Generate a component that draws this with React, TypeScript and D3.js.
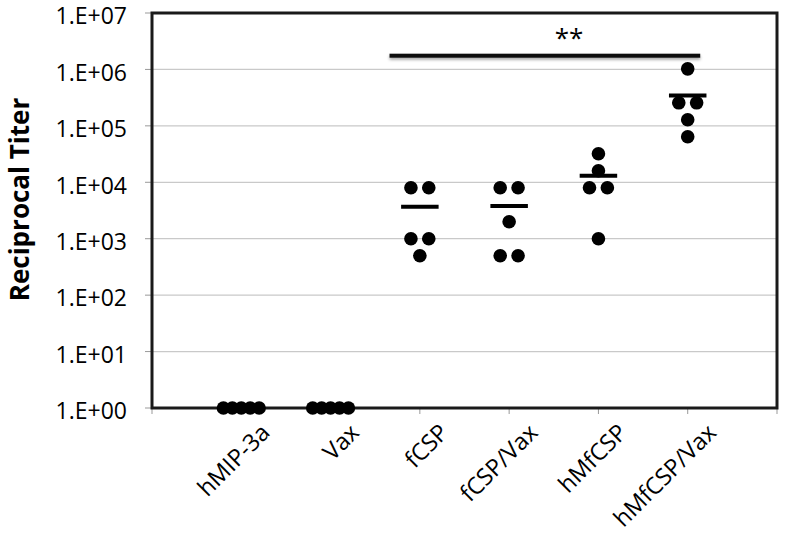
import React from 'react';
import * as d3 from 'd3';

// groups on the x axis (plotted at x = 1..6, axis runs 0..7)
const groups = ['hMIP-3a', 'Vax', 'fCSP', 'fCSP/Vax', 'hMfCSP', 'hMfCSP/Vax'];

// reciprocal titers, one value per animal
const hMIP3a = [1, 1, 1, 1, 1];
const vax = [1, 1, 1, 1, 1];
const fCSP = [8000, 8000, 1000, 1000, 500];
const fCSPVax = [8000, 8000, 2000, 500, 500];
const hMfCSP = [32000, 16000, 8000, 8000, 1000];
const hMfCSPVax = [1024000, 256000, 256000, 128000, 64000];
const series = [hMIP3a, vax, fCSP, fCSPVax, hMfCSP, hMfCSPVax];

const yTicks = [1, 10, 100, 1000, 10000, 100000, 1000000, 10000000];
const yTickLabels = ['1.E+00', '1.E+01', '1.E+02', '1.E+03', '1.E+04', '1.E+05', '1.E+06', '1.E+07'];

// significance bar (x in axis units, y as titer)
const sigFrom = 2.66;
const sigTo = 6.14;
const sigLevel = 1.75e6;
const sigText = '**';
const sigTextAt = 4.67;

const W = 788;
const H = 546;
const margin = {left: 152, right: 11, top: 13, bottom: 138};

export default function App() {
  const x = d3.scaleLinear().domain([0, 7]).range([margin.left, W - margin.right]);
  const y = d3.scaleLog().domain([1, 1e7]).range([H - margin.bottom, margin.top]);
  const jitterStep = 0.1;
  const font = '"Open Sans", "Liberation Sans", sans-serif';

  // spread equal values sideways so they don't sit on top of each other
  const points: {cx: number; cy: number}[] = [];
  series.forEach((vals, gi) => {
    const counts = d3.rollup(vals, (v) => v.length, (d) => d);
    const seen = new Map<number, number>();
    vals.forEach((v) => {
      const n = counts.get(v) || 1;
      const k = seen.get(v) || 0;
      seen.set(v, k + 1);
      let off = 0;
      if (n === 2) off = k === 0 ? -1 : 1;
      else if (n > 2) off = k - (n - 1) / 2;
      points.push({cx: x(gi + 1 + off * jitterStep), cy: y(v)});
    });
  });

  const means = series.map((vals, gi) => ({gx: gi + 1, m: d3.mean(vals) as number}));

  const x0 = x(0);
  const x1 = x(7);
  const yb = y(1);
  const yt = y(1e7);
  const ys = y(sigLevel);

  return (
    <svg width={W} height={H} style={{position: 'absolute', left: 0, top: 0, background: '#fff'}}>
      <defs>
        <filter id="shadow" x="-5%" y="-100%" width="110%" height="400%">
          <feDropShadow dx="0" dy="2" stdDeviation="1.5" floodColor="#000" floodOpacity="0.35" />
        </filter>
      </defs>

      {/* gridlines */}
      {yTicks.map((t) => (
        <line key={'g' + t} x1={x0} x2={x1} y1={y(t)} y2={y(t)} stroke="#c9c9c9" strokeWidth={1.2} />
      ))}

      {/* y ticks + labels */}
      {yTicks.map((t, i) => (
        <g key={'yt' + t}>
          <line x1={x0 - 7} x2={x0} y1={y(t)} y2={y(t)} stroke="#999" strokeWidth={1} />
          <text x={127} y={y(t) + 3} dy="0.36em" textAnchor="end" fontFamily={font} fontSize={23} fill="#000">
            {yTickLabels[i]}
          </text>
        </g>
      ))}

      {/* x ticks */}
      {d3.range(0, 8).map((t) => (
        <line key={'xt' + t} x1={x(t)} x2={x(t)} y1={yb} y2={yb + 6} stroke="#999" strokeWidth={1} />
      ))}

      {/* frame */}
      <rect x={x0} y={yt} width={x1 - x0} height={yb - yt} fill="none" stroke="#1a1a1a" strokeWidth={3} />

      {/* dots */}
      {points.map((p, i) => (
        <circle key={'p' + i} cx={p.cx} cy={p.cy} r={6.8} fill="#000" />
      ))}

      {/* group means */}
      {means.map((d) => (
        <line key={'m' + d.gx} x1={x(d.gx - 0.21)} x2={x(d.gx + 0.21)} y1={y(d.m)} y2={y(d.m)} stroke="#000" strokeWidth={4} />
      ))}

      {/* significance */}
      <rect x={x(sigFrom)} y={ys - 2} width={x(sigTo) - x(sigFrom)} height={4} fill="#111" filter="url(#shadow)" />
      <text x={x(sigTextAt)} y={ys - 9} textAnchor="middle" fontFamily={font} fontSize={26} fill="#000">
        {sigText}
      </text>

      {/* category labels */}
      {groups.map((g, i) => (
        <text
          key={g}
          transform={`translate(${x(i + 1) + 30},${yb + 26}) rotate(-45)`}
          textAnchor="end"
          fontFamily={font}
          fontSize={23.5}
          fill="#000"
        >
          {g}
        </text>
      ))}

      {/* y axis title */}
      <text
        transform={`translate(29,${(yb + yt) / 2 - 11}) rotate(-90)`}
        textAnchor="middle"
        fontFamily={font}
        fontWeight="bold"
        fontSize={26}
        fill="#000"
      >
        Reciprocal Titer
      </text>
    </svg>
  );
}
